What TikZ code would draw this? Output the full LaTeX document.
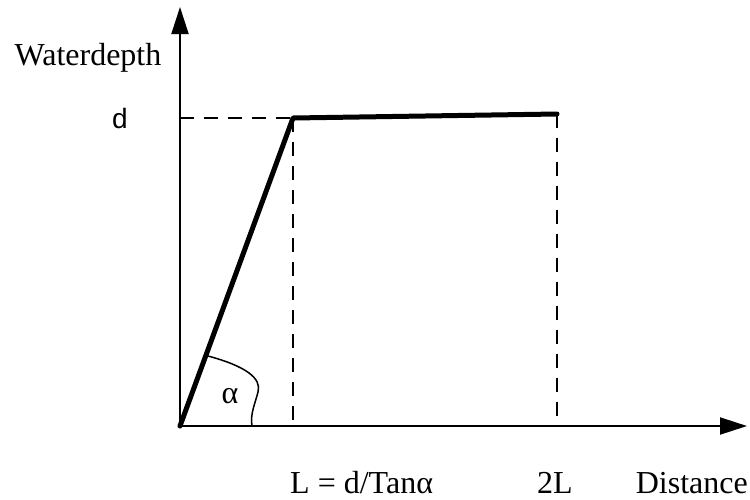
\documentclass[tikz,border=0pt]{standalone}
\usepackage{fontspec}
\setmainfont{Liberation Serif}
\newfontfamily\arialfont{Liberation Sans}
\usetikzlibrary{arrows.meta}
\begin{document}
\begin{tikzpicture}[x=1pt,y=-1pt,
  axis/.style={line width=2pt,-{Triangle[length=27pt,width=17pt]}},
  profile/.style={line width=5pt,line cap=round,line join=round},
  guide/.style={line width=2pt,dash pattern=on 14pt off 10pt},
  lbl/.style={font=\fontsize{32}{34}\selectfont,inner sep=0pt,anchor=base}]
\useasboundingbox (0,0) rectangle (750,499);
\coordinate (O) at (180,426);
\coordinate (ytip) at (180,7);
\coordinate (xtip) at (747,426);
\coordinate (dax) at (180,118);
\coordinate (A) at (293,118);
\coordinate (B) at (557,114);
\coordinate (Ab) at (293,426);
\coordinate (Bb) at (557,426);
\coordinate (arcS) at (208,356);
\coordinate (arcE) at (252,426);
\draw[axis] (O) -- (ytip);
\draw[axis] (O) -- (xtip);
\draw[guide] (dax) -- (A);
\draw[guide] (A) -- (Ab);
\draw[guide] (B) -- (Bb);
\draw[profile] (O) -- (A) -- (B);
\draw[line width=1.5pt] (arcS) .. controls (245,366) and (262,378) .. (258,392) .. controls (255,404) and (250,414) .. (arcE);
\node[lbl] (alpha) at (230,403) {α};
\node[lbl] (wd) at (88,65) {Waterdepth};
\node[lbl,font=\arialfont\fontsize{28}{30}\selectfont] (dlab) at (120,128) {d};
\node[lbl,anchor=base west] (Llab) at (290,493) {L = d/Tanα};
\node[lbl] (twoL) at (555,493) {2L};
\node[lbl,anchor=base east] (dist) at (748,493) {Distance};
\end{tikzpicture}
\end{document}
